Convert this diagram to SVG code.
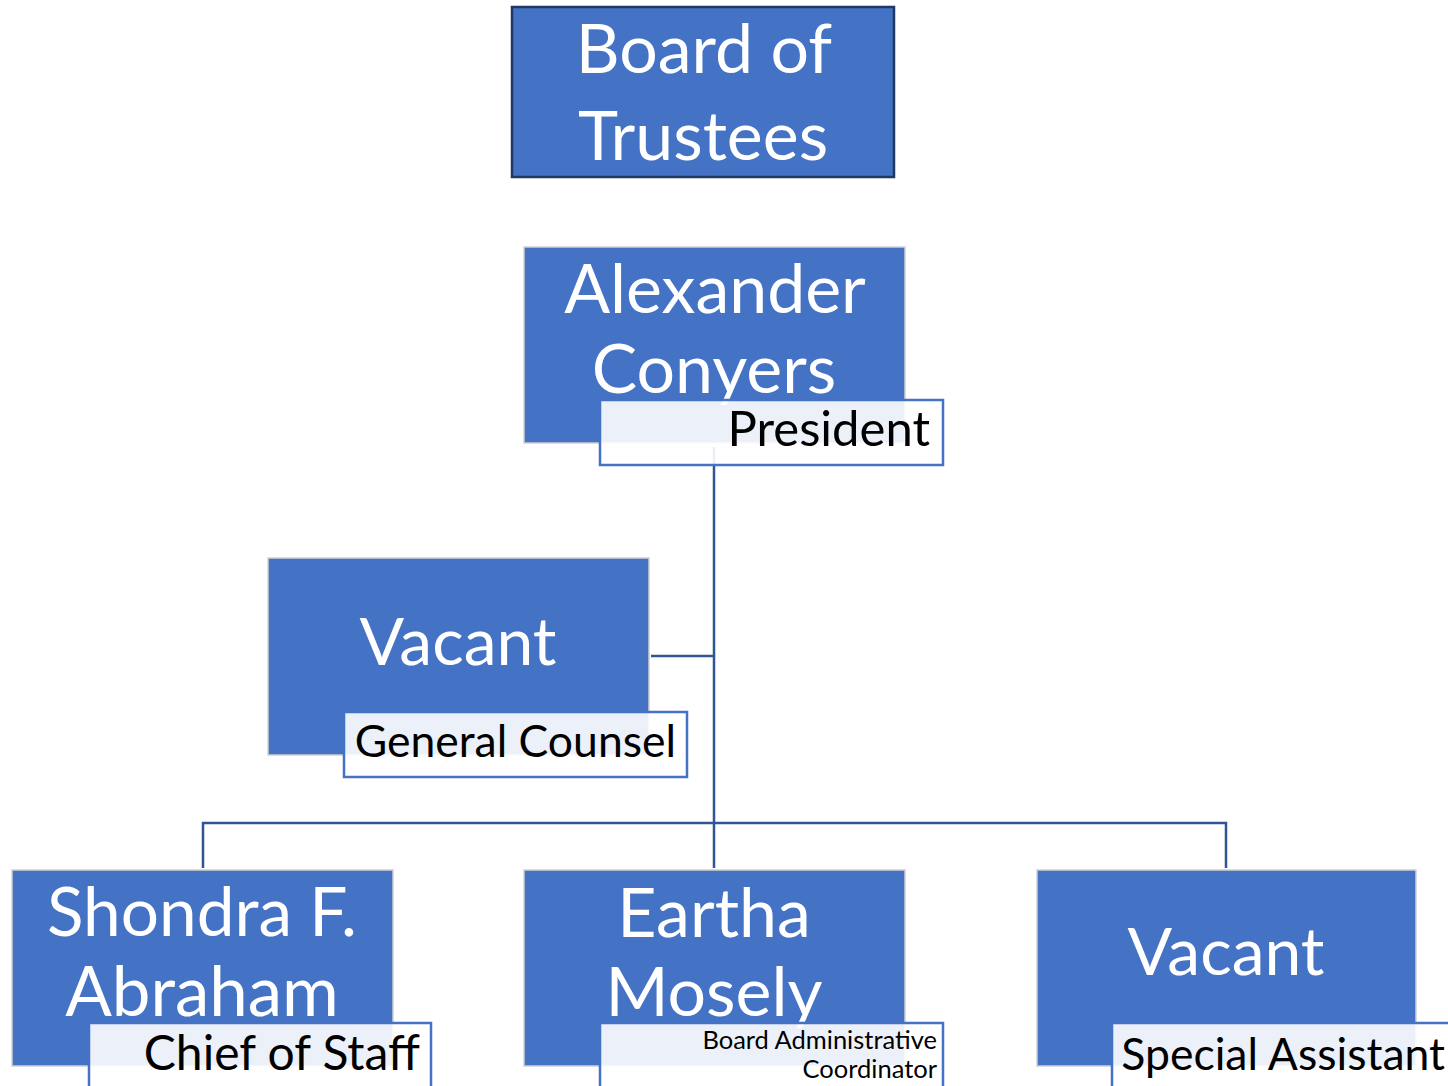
<svg xmlns="http://www.w3.org/2000/svg" width="1448" height="1086" viewBox="0 0 1448 1086">
<style>
.box{fill:#4472C4;stroke:#D0D0D0;stroke-width:1.5}
.lbl{fill:#FFFFFF;fill-opacity:0.9;stroke:#4472C4;stroke-width:2.5}
.name{font-family:Lato,"Liberation Sans",sans-serif;font-size:68px;fill:#FFFFFF;text-anchor:middle}
.title{font-family:Lato,"Liberation Sans",sans-serif;font-size:48px;fill:#000000;text-anchor:end}
.conn{fill:none;stroke:#2F5597;stroke-width:2.5}
</style>
<rect width="1448" height="1086" fill="#FFFFFF"/>
<g id="connectors">
<path class="conn" d="M714 447V868M651 656H714M203 868V823H1226V868"/>
</g>
<g id="board">
<rect x="512" y="7" width="382" height="170" fill="#4472C4" stroke="#1F3864" stroke-width="2.5"/>
<text class="name" x="704" y="73">Board of</text>
<text class="name" x="703" y="160">Trustees</text>
</g>
<g id="president">
<rect class="box" x="524" y="247" width="381" height="196"/>
<text class="name" x="715" y="313">Alexander</text>
<text class="name" x="714" y="393">Conyers</text>
<rect class="lbl" x="600" y="400" width="343" height="65"/>
<text class="title" x="930" y="446" style="font-size:49px">President</text>
</g>
<g id="general-counsel">
<rect class="box" x="268" y="558" width="381" height="197"/>
<text class="name" x="458" y="665" style="font-size:66px">Vacant</text>
<rect class="lbl" x="344" y="712" width="343" height="65"/>
<text class="title" x="676" y="757" style="font-size:44.5px">General Counsel</text>
</g>
<g id="chief-of-staff">
<rect class="box" x="12" y="870" width="381" height="196"/>
<text class="name" x="202" y="936" style="font-size:67.5px">Shondra F.</text>
<text class="name" x="202" y="1016" style="font-size:69px">Abraham</text>
<rect class="lbl" x="89" y="1023" width="342" height="70"/>
<text class="title" x="420" y="1070">Chief of Staff</text>
</g>
<g id="coordinator">
<rect class="box" x="524" y="870" width="381" height="196"/>
<text class="name" x="714" y="937">Eartha</text>
<text class="name" x="714" y="1016">Mosely</text>
<rect class="lbl" x="600" y="1023" width="343" height="70"/>
<text class="title" x="937" y="1049" style="font-size:25.5px">Board Administrative</text>
<text class="title" x="937" y="1078" style="font-size:25.5px">Coordinator</text>
</g>
<g id="special-assistant">
<rect class="box" x="1037" y="870" width="379" height="196"/>
<text class="name" x="1226" y="975" style="font-size:66px">Vacant</text>
<rect class="lbl" x="1112" y="1023" width="345" height="70"/>
<text class="title" x="1445" y="1070" style="font-size:44.5px">Special Assistant</text>
</g>
</svg>
